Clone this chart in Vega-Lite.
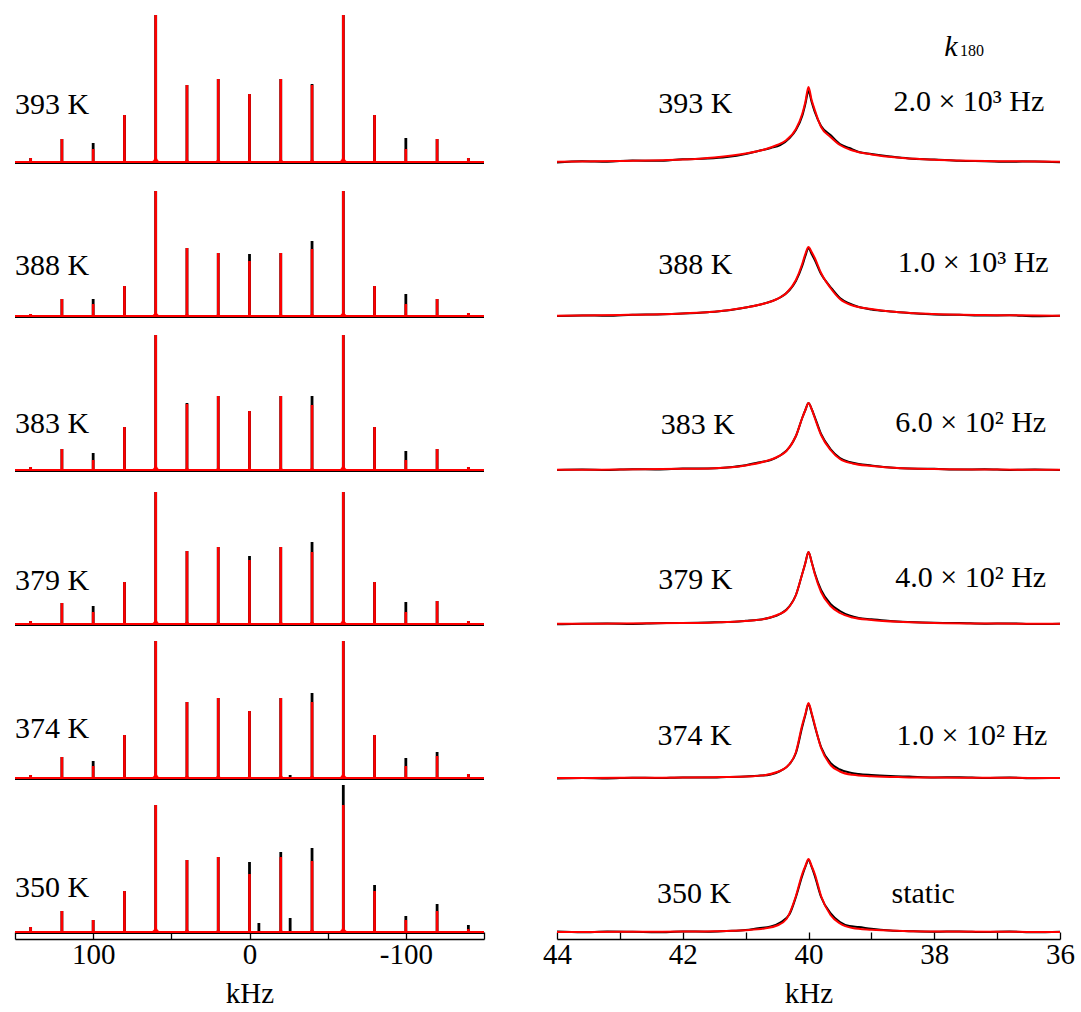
{
"$schema":"https://vega.github.io/schema/vega-lite/v6.json",
"padding":{"left":13,"top":13,"right":0,"bottom":0},
"background":"white",
"config":{"view":{"stroke":null},"font":"Liberation Serif",
"axisY":{"disable":true},
"axisX":{"domainColor":"black","domainWidth":1.5,"tickColor":"black","tickWidth":1.3,"tickSize":-7,"labelFontSize":29,"labelColor":"black","labelFont":"Liberation Serif","labelPadding":8,"labelFlush":false,"labelOverlap":false,"titleFontSize":29,"titleFont":"Liberation Serif","titleFontWeight":"normal","titleColor":"black","titlePadding":10,"grid":false}},
"hconcat":[
{
"data":{"values":[
{"t":"393","k":"l","x":150,"y":48,"txt":"393 K"},
{"t":"393","k":"p","x":140,"e":4,"f":4},{"t":"393","k":"p","x":120,"e":23,"f":23},{"t":"393","k":"p","x":100,"e":19,"f":13},{"t":"393","k":"p","x":80,"e":47,"f":47},{"t":"393","k":"p","x":60,"e":147,"f":147},{"t":"393","k":"p","x":40,"e":77,"f":77},{"t":"393","k":"p","x":20,"e":83,"f":83},{"t":"393","k":"p","x":0,"e":68,"f":68},{"t":"393","k":"p","x":-20,"e":83,"f":83},{"t":"393","k":"p","x":-40,"e":78,"f":77},{"t":"393","k":"p","x":-60,"e":147,"f":147},{"t":"393","k":"p","x":-80,"e":47,"f":47},{"t":"393","k":"p","x":-100,"e":24,"f":13},{"t":"393","k":"p","x":-120,"e":23,"f":23},{"t":"393","k":"p","x":-140,"e":4,"f":4},
{"t":"388","k":"l","x":150,"y":41,"txt":"388 K"},
{"t":"388","k":"p","x":140,"e":2,"f":2},{"t":"388","k":"p","x":120,"e":17,"f":17},{"t":"388","k":"p","x":100,"e":17,"f":12},{"t":"388","k":"p","x":80,"e":30,"f":30},{"t":"388","k":"p","x":60,"e":125,"f":125},{"t":"388","k":"p","x":40,"e":68,"f":68},{"t":"388","k":"p","x":20,"e":63,"f":63},{"t":"388","k":"p","x":0,"e":62,"f":55},{"t":"388","k":"p","x":-20,"e":63,"f":63},{"t":"388","k":"p","x":-40,"e":75,"f":67},{"t":"388","k":"p","x":-60,"e":125,"f":125},{"t":"388","k":"p","x":-80,"e":30,"f":30},{"t":"388","k":"p","x":-100,"e":22,"f":12},{"t":"388","k":"p","x":-120,"e":17,"f":17},{"t":"388","k":"p","x":-140,"e":3,"f":3},
{"t":"383","k":"l","x":150,"y":37,"txt":"383 K"},
{"t":"383","k":"p","x":140,"e":3,"f":3},{"t":"383","k":"p","x":120,"e":21,"f":21},{"t":"383","k":"p","x":100,"e":17,"f":10},{"t":"383","k":"p","x":80,"e":43,"f":43},{"t":"383","k":"p","x":60,"e":135,"f":135},{"t":"383","k":"p","x":40,"e":67,"f":66},{"t":"383","k":"p","x":20,"e":74,"f":74},{"t":"383","k":"p","x":0,"e":59,"f":59},{"t":"383","k":"p","x":-20,"e":74,"f":74},{"t":"383","k":"p","x":-40,"e":74,"f":65},{"t":"383","k":"p","x":-60,"e":135,"f":135},{"t":"383","k":"p","x":-80,"e":43,"f":43},{"t":"383","k":"p","x":-100,"e":19,"f":10},{"t":"383","k":"p","x":-120,"e":21,"f":21},{"t":"383","k":"p","x":-140,"e":3,"f":3},
{"t":"379","k":"l","x":150,"y":34,"txt":"379 K"},
{"t":"379","k":"p","x":140,"e":3,"f":3},{"t":"379","k":"p","x":120,"e":21,"f":21},{"t":"379","k":"p","x":100,"e":18,"f":12},{"t":"379","k":"p","x":80,"e":42,"f":42},{"t":"379","k":"p","x":60,"e":132,"f":132},{"t":"379","k":"p","x":40,"e":73,"f":73},{"t":"379","k":"p","x":20,"e":77,"f":77},{"t":"379","k":"p","x":0,"e":68,"f":64},{"t":"379","k":"p","x":-20,"e":77,"f":77},{"t":"379","k":"p","x":-40,"e":82,"f":72},{"t":"379","k":"p","x":-60,"e":132,"f":132},{"t":"379","k":"p","x":-80,"e":42,"f":42},{"t":"379","k":"p","x":-100,"e":22,"f":12},{"t":"379","k":"p","x":-120,"e":23,"f":23},{"t":"379","k":"p","x":-140,"e":3,"f":3},
{"t":"374","k":"l","x":150,"y":40,"txt":"374 K"},
{"t":"374","k":"p","x":140,"e":3,"f":3},{"t":"374","k":"p","x":120,"e":21,"f":21},{"t":"374","k":"p","x":100,"e":17,"f":12},{"t":"374","k":"p","x":80,"e":43,"f":43},{"t":"374","k":"p","x":60,"e":137,"f":137},{"t":"374","k":"p","x":40,"e":76,"f":76},{"t":"374","k":"p","x":20,"e":80,"f":80},{"t":"374","k":"p","x":0,"e":67,"f":67},{"t":"374","k":"p","x":-20,"e":80,"f":80},{"t":"374","k":"p","x":-40,"e":85,"f":76},{"t":"374","k":"p","x":-60,"e":137,"f":137},{"t":"374","k":"p","x":-80,"e":43,"f":43},{"t":"374","k":"p","x":-100,"e":20,"f":12},{"t":"374","k":"p","x":-120,"e":26,"f":22},{"t":"374","k":"p","x":-140,"e":4,"f":4},{"t":"374","k":"p","x":-26,"e":3,"f":0},
{"t":"350","k":"l","x":150,"y":35,"txt":"350 K"},
{"t":"350","k":"p","x":140,"e":5,"f":5},{"t":"350","k":"p","x":120,"e":21,"f":21},{"t":"350","k":"p","x":100,"e":12,"f":12},{"t":"350","k":"p","x":80,"e":41,"f":41},{"t":"350","k":"p","x":60,"e":127,"f":127},{"t":"350","k":"p","x":40,"e":72,"f":72},{"t":"350","k":"p","x":20,"e":75,"f":75},{"t":"350","k":"p","x":0,"e":70,"f":58},{"t":"350","k":"p","x":-20,"e":80,"f":75},{"t":"350","k":"p","x":-40,"e":84,"f":71},{"t":"350","k":"p","x":-60,"e":147,"f":127},{"t":"350","k":"p","x":-80,"e":47,"f":41},{"t":"350","k":"p","x":-100,"e":16,"f":12},{"t":"350","k":"p","x":-120,"e":28,"f":21},{"t":"350","k":"p","x":-140,"e":7,"f":3},{"t":"350","k":"p","x":-6,"e":9,"f":0},{"t":"350","k":"p","x":-26,"e":14,"f":0}
]},
"facet":{"row":{"field":"t","type":"nominal","sort":"descending","header":null}},
"spacing":0,
"bounds":"flush",
"spec":{
"width":469,"height":154,
"encoding":{"x":{"field":"x","type":"quantitative","scale":{"domain":[150,-150],"nice":false,"zero":false},
"axis":{"values":[150,100,50,0,-50,-100,-150],"labelExpr":"datum.value % 100 == 0 && abs(datum.value) < 150 ? toString(datum.value) : ''","title":"kHz"}}},
"layer":[
{"transform":[{"filter":"datum.k == 'l'"}],"mark":{"type":"rule","color":"black","strokeWidth":2.6},
"encoding":{"x":{"datum":150},"x2":{"datum":-150},"y":{"datum":-0.8,"scale":{"domain":[-7,147]}}}},
{"transform":[{"filter":"datum.k == 'p'"}],"mark":{"type":"rule","color":"black","strokeWidth":2.8,"strokeCap":"butt"},
"encoding":{"y":{"field":"e","type":"quantitative","scale":{"domain":[-7,147]}},"y2":{"datum":0}}},
{"transform":[{"filter":"datum.k == 'p' && datum.f > 0"}],"mark":{"type":"point","shape":"M-1,0 Q-0.15,-0.1 -0.12,-1 L0.12,-1 Q0.15,-0.1 1,0 Z","filled":true,"color":"red","opacity":1,"strokeWidth":0},
"encoding":{"y":{"datum":0,"scale":{"domain":[-7,147]}},"size":{"field":"f","type":"quantitative","scale":{"domain":[0,147],"range":[0,160]},"legend":null}}},
{"transform":[{"filter":"datum.k == 'l'"}],"mark":{"type":"rule","color":"red","strokeWidth":2},
"encoding":{"x":{"datum":150},"x2":{"datum":-150},"y":{"datum":0,"scale":{"domain":[-7,147]}}}},
{"transform":[{"filter":"datum.k == 'p' && datum.f > 0"}],"mark":{"type":"rule","color":"red","strokeWidth":2.6,"strokeCap":"butt"},
"encoding":{"y":{"field":"f","type":"quantitative","scale":{"domain":[-7,147]}},"y2":{"datum":0}}},
{"transform":[{"filter":"datum.k == 'l'"}],"mark":{"type":"text","align":"left","baseline":"alphabetic","fontSize":30,"font":"Liberation Serif","color":"black"},
"encoding":{"y":{"field":"y","type":"quantitative","scale":{"domain":[-7,147]}},"text":{"field":"txt"}}}
]}
},
{
"data":{"values":[
{"t":"393","s":"lt","x":42.39,"y":49,"txt":"393 K"},{"t":"393","s":"lr","x":38.65,"y":51,"txt":"2.0 × 10³ Hz"},{"t":"393","s":"kk","x":37.84,"y":106,"txt":"k"},{"t":"393","s":"ks","x":37.59,"y":106,"txt":"180"},
{"t":"388","s":"lt","x":42.39,"y":42,"txt":"388 K"},{"t":"388","s":"lr","x":38.58,"y":44,"txt":"1.0 × 10³ Hz"},
{"t":"383","s":"lt","x":42.35,"y":36,"txt":"383 K"},{"t":"383","s":"lr","x":38.62,"y":38,"txt":"6.0 × 10² Hz"},
{"t":"379","s":"lt","x":42.39,"y":35,"txt":"379 K"},{"t":"379","s":"lr","x":38.62,"y":37,"txt":"4.0 × 10² Hz"},
{"t":"374","s":"lt","x":42.40,"y":33,"txt":"374 K"},{"t":"374","s":"lr","x":38.6,"y":33,"txt":"1.0 × 10² Hz"},
{"t":"350","s":"lt","x":42.41,"y":29,"txt":"350 K"},{"t":"350","s":"lr","x":38.68,"y":29,"txt":"static"},

{"t":"393","s":"f","x":44,"y":0.3},{"t":"393","s":"f","x":43,"y":1},{"t":"393","s":"f","x":42,"y":2.4},{"t":"393","s":"f","x":41.5,"y":4.5},{"t":"393","s":"f","x":41,"y":8.5},{"t":"393","s":"f","x":40.7,"y":12.5},{"t":"393","s":"f","x":40.5,"y":17},{"t":"393","s":"f","x":40.35,"y":22},{"t":"393","s":"f","x":40.2,"y":33},{"t":"393","s":"f","x":40.1,"y":48},{"t":"393","s":"f","x":40.05,"y":60},{"t":"393","s":"f","x":40,"y":75},{"t":"393","s":"f","x":39.95,"y":62},{"t":"393","s":"f","x":39.9,"y":52},{"t":"393","s":"f","x":39.8,"y":35},{"t":"393","s":"f","x":39.65,"y":25},{"t":"393","s":"f","x":39.5,"y":17},{"t":"393","s":"f","x":39.3,"y":11.5},{"t":"393","s":"f","x":39,"y":7.5},{"t":"393","s":"f","x":38.5,"y":4},{"t":"393","s":"f","x":38,"y":2.2},{"t":"393","s":"f","x":37,"y":0.8},{"t":"393","s":"f","x":36,"y":0.3},
{"t":"388","s":"f","x":44,"y":0.3},{"t":"388","s":"f","x":43,"y":1},{"t":"388","s":"f","x":42,"y":2.6},{"t":"388","s":"f","x":41.5,"y":4.3},{"t":"388","s":"f","x":41,"y":8.5},{"t":"388","s":"f","x":40.7,"y":12.5},{"t":"388","s":"f","x":40.5,"y":17},{"t":"388","s":"f","x":40.35,"y":23},{"t":"388","s":"f","x":40.2,"y":36},{"t":"388","s":"f","x":40.1,"y":52},{"t":"388","s":"f","x":40.05,"y":62},{"t":"388","s":"f","x":40,"y":69},{"t":"388","s":"f","x":39.95,"y":64},{"t":"388","s":"f","x":39.9,"y":58},{"t":"388","s":"f","x":39.8,"y":43},{"t":"388","s":"f","x":39.65,"y":28},{"t":"388","s":"f","x":39.5,"y":17},{"t":"388","s":"f","x":39.3,"y":10.5},{"t":"388","s":"f","x":39,"y":7},{"t":"388","s":"f","x":38.5,"y":3.5},{"t":"388","s":"f","x":38,"y":2},{"t":"388","s":"f","x":37,"y":0.8},{"t":"388","s":"f","x":36,"y":0.3},
{"t":"383","s":"f","x":44,"y":0.2},{"t":"383","s":"f","x":43,"y":0.5},{"t":"383","s":"f","x":42,"y":1.2},{"t":"383","s":"f","x":41.5,"y":1.8},{"t":"383","s":"f","x":41,"y":4.5},{"t":"383","s":"f","x":40.7,"y":8.5},{"t":"383","s":"f","x":40.5,"y":13},{"t":"383","s":"f","x":40.35,"y":19},{"t":"383","s":"f","x":40.2,"y":34},{"t":"383","s":"f","x":40.1,"y":52},{"t":"383","s":"f","x":40.05,"y":60},{"t":"383","s":"f","x":40,"y":67},{"t":"383","s":"f","x":39.95,"y":61},{"t":"383","s":"f","x":39.9,"y":52},{"t":"383","s":"f","x":39.8,"y":35},{"t":"383","s":"f","x":39.65,"y":20},{"t":"383","s":"f","x":39.5,"y":11},{"t":"383","s":"f","x":39.3,"y":6.5},{"t":"383","s":"f","x":39,"y":4},{"t":"383","s":"f","x":38.5,"y":1.8},{"t":"383","s":"f","x":38,"y":1},{"t":"383","s":"f","x":37,"y":0.4},{"t":"383","s":"f","x":36,"y":0.2},
{"t":"379","s":"f","x":44,"y":0.2},{"t":"379","s":"f","x":43,"y":0.4},{"t":"379","s":"f","x":42,"y":1},{"t":"379","s":"f","x":41.5,"y":1.6},{"t":"379","s":"f","x":41,"y":3},{"t":"379","s":"f","x":40.7,"y":5},{"t":"379","s":"f","x":40.5,"y":9},{"t":"379","s":"f","x":40.35,"y":14},{"t":"379","s":"f","x":40.2,"y":29},{"t":"379","s":"f","x":40.1,"y":50},{"t":"379","s":"f","x":40.05,"y":61},{"t":"379","s":"f","x":40,"y":72},{"t":"379","s":"f","x":39.95,"y":62},{"t":"379","s":"f","x":39.9,"y":50},{"t":"379","s":"f","x":39.8,"y":32},{"t":"379","s":"f","x":39.65,"y":18},{"t":"379","s":"f","x":39.5,"y":11},{"t":"379","s":"f","x":39.3,"y":6.5},{"t":"379","s":"f","x":39,"y":4},{"t":"379","s":"f","x":38.5,"y":2},{"t":"379","s":"f","x":38,"y":1},{"t":"379","s":"f","x":37,"y":0.4},{"t":"379","s":"f","x":36,"y":0.2},
{"t":"374","s":"f","x":44,"y":0},{"t":"374","s":"f","x":43,"y":0.2},{"t":"374","s":"f","x":42,"y":0.5},{"t":"374","s":"f","x":41.5,"y":0.8},{"t":"374","s":"f","x":41,"y":1.5},{"t":"374","s":"f","x":40.7,"y":2.8},{"t":"374","s":"f","x":40.5,"y":6},{"t":"374","s":"f","x":40.35,"y":11},{"t":"374","s":"f","x":40.2,"y":26},{"t":"374","s":"f","x":40.1,"y":53},{"t":"374","s":"f","x":40.05,"y":64},{"t":"374","s":"f","x":40,"y":75},{"t":"374","s":"f","x":39.95,"y":65},{"t":"374","s":"f","x":39.9,"y":53},{"t":"374","s":"f","x":39.8,"y":30},{"t":"374","s":"f","x":39.65,"y":13},{"t":"374","s":"f","x":39.5,"y":6.5},{"t":"374","s":"f","x":39.3,"y":3.2},{"t":"374","s":"f","x":39,"y":1.8},{"t":"374","s":"f","x":38.5,"y":0.8},{"t":"374","s":"f","x":38,"y":0.4},{"t":"374","s":"f","x":37,"y":0.2},{"t":"374","s":"f","x":36,"y":0},
{"t":"350","s":"f","x":44,"y":0},{"t":"350","s":"f","x":43,"y":0.2},{"t":"350","s":"f","x":42,"y":0.5},{"t":"350","s":"f","x":41.5,"y":0.8},{"t":"350","s":"f","x":41,"y":1.8},{"t":"350","s":"f","x":40.7,"y":3.5},{"t":"350","s":"f","x":40.5,"y":6.5},{"t":"350","s":"f","x":40.35,"y":13},{"t":"350","s":"f","x":40.2,"y":36},{"t":"350","s":"f","x":40.1,"y":58},{"t":"350","s":"f","x":40.05,"y":66},{"t":"350","s":"f","x":40,"y":73},{"t":"350","s":"f","x":39.95,"y":66},{"t":"350","s":"f","x":39.9,"y":58},{"t":"350","s":"f","x":39.8,"y":36},{"t":"350","s":"f","x":39.65,"y":17},{"t":"350","s":"f","x":39.5,"y":8.5},{"t":"350","s":"f","x":39.3,"y":4},{"t":"350","s":"f","x":39,"y":2.2},{"t":"350","s":"f","x":38.5,"y":1},{"t":"350","s":"f","x":38,"y":0.5},{"t":"350","s":"f","x":37,"y":0.2},{"t":"350","s":"f","x":36,"y":0},

{"t":"393","s":"e","x":44,"y":-0.5},{"t":"393","s":"e","x":43.6,"y":0.8},{"t":"393","s":"e","x":43.2,"y":0.3},{"t":"393","s":"e","x":42.8,"y":1.5},{"t":"393","s":"e","x":42.4,"y":1.2},{"t":"393","s":"e","x":42,"y":2.8},{"t":"393","s":"e","x":41.6,"y":3.5},{"t":"393","s":"e","x":41.3,"y":5},{"t":"393","s":"e","x":41,"y":8},{"t":"393","s":"e","x":40.8,"y":11},{"t":"393","s":"e","x":40.6,"y":14},{"t":"393","s":"e","x":40.45,"y":17},{"t":"393","s":"e","x":40.3,"y":24},{"t":"393","s":"e","x":40.2,"y":32},{"t":"393","s":"e","x":40.1,"y":46},{"t":"393","s":"e","x":40.05,"y":58},{"t":"393","s":"e","x":40,"y":71},{"t":"393","s":"e","x":39.95,"y":60},{"t":"393","s":"e","x":39.9,"y":50},{"t":"393","s":"e","x":39.8,"y":36},{"t":"393","s":"e","x":39.65,"y":27},{"t":"393","s":"e","x":39.5,"y":18},{"t":"393","s":"e","x":39.35,"y":14},{"t":"393","s":"e","x":39.2,"y":10},{"t":"393","s":"e","x":39,"y":8},{"t":"393","s":"e","x":38.7,"y":5.5},{"t":"393","s":"e","x":38.4,"y":3.5},{"t":"393","s":"e","x":38,"y":2.5},{"t":"393","s":"e","x":37.6,"y":1.2},{"t":"393","s":"e","x":37.2,"y":0.8},{"t":"393","s":"e","x":36.8,"y":0.2},{"t":"393","s":"e","x":36.4,"y":0.6},{"t":"393","s":"e","x":36,"y":-0.3},
{"t":"388","s":"e","x":44,"y":0},{"t":"388","s":"e","x":43.6,"y":0.6},{"t":"388","s":"e","x":43.2,"y":0.2},{"t":"388","s":"e","x":42.8,"y":1.2},{"t":"388","s":"e","x":42.4,"y":1.6},{"t":"388","s":"e","x":42,"y":2.4},{"t":"388","s":"e","x":41.6,"y":3.8},{"t":"388","s":"e","x":41.3,"y":5.5},{"t":"388","s":"e","x":41,"y":8.5},{"t":"388","s":"e","x":40.8,"y":11},{"t":"388","s":"e","x":40.6,"y":14.5},{"t":"388","s":"e","x":40.45,"y":18.5},{"t":"388","s":"e","x":40.3,"y":26},{"t":"388","s":"e","x":40.2,"y":35},{"t":"388","s":"e","x":40.1,"y":50},{"t":"388","s":"e","x":40.05,"y":60},{"t":"388","s":"e","x":40,"y":68},{"t":"388","s":"e","x":39.95,"y":62},{"t":"388","s":"e","x":39.9,"y":56},{"t":"388","s":"e","x":39.8,"y":42},{"t":"388","s":"e","x":39.65,"y":29},{"t":"388","s":"e","x":39.5,"y":18},{"t":"388","s":"e","x":39.35,"y":12.5},{"t":"388","s":"e","x":39.2,"y":9},{"t":"388","s":"e","x":39,"y":6.5},{"t":"388","s":"e","x":38.7,"y":4.5},{"t":"388","s":"e","x":38.4,"y":3},{"t":"388","s":"e","x":38,"y":1.5},{"t":"388","s":"e","x":37.6,"y":1.2},{"t":"388","s":"e","x":37.2,"y":0.4},{"t":"388","s":"e","x":36.8,"y":0.7},{"t":"388","s":"e","x":36.4,"y":-0.2},{"t":"388","s":"e","x":36,"y":0.2},
{"t":"383","s":"e","x":44,"y":0},{"t":"383","s":"e","x":43.6,"y":0.4},{"t":"383","s":"e","x":43.2,"y":0},{"t":"383","s":"e","x":42.8,"y":0.8},{"t":"383","s":"e","x":42.4,"y":0.5},{"t":"383","s":"e","x":42,"y":1.4},{"t":"383","s":"e","x":41.6,"y":1.6},{"t":"383","s":"e","x":41.3,"y":2.6},{"t":"383","s":"e","x":41,"y":4.8},{"t":"383","s":"e","x":40.8,"y":7.5},{"t":"383","s":"e","x":40.6,"y":10},{"t":"383","s":"e","x":40.45,"y":14.5},{"t":"383","s":"e","x":40.3,"y":23},{"t":"383","s":"e","x":40.2,"y":34},{"t":"383","s":"e","x":40.1,"y":52},{"t":"383","s":"e","x":40.05,"y":60},{"t":"383","s":"e","x":40,"y":67},{"t":"383","s":"e","x":39.95,"y":61},{"t":"383","s":"e","x":39.9,"y":53},{"t":"383","s":"e","x":39.8,"y":36},{"t":"383","s":"e","x":39.65,"y":21},{"t":"383","s":"e","x":39.5,"y":12},{"t":"383","s":"e","x":39.35,"y":8},{"t":"383","s":"e","x":39.2,"y":6},{"t":"383","s":"e","x":39,"y":4.5},{"t":"383","s":"e","x":38.7,"y":2.5},{"t":"383","s":"e","x":38.4,"y":1.5},{"t":"383","s":"e","x":38,"y":1.2},{"t":"383","s":"e","x":37.6,"y":0.4},{"t":"383","s":"e","x":37.2,"y":0.8},{"t":"383","s":"e","x":36.8,"y":0.1},{"t":"383","s":"e","x":36.4,"y":0.5},{"t":"383","s":"e","x":36,"y":0},
{"t":"379","s":"e","x":44,"y":-0.3},{"t":"379","s":"e","x":43.6,"y":0.3},{"t":"379","s":"e","x":43.2,"y":0.5},{"t":"379","s":"e","x":42.8,"y":0.1},{"t":"379","s":"e","x":42.4,"y":0.8},{"t":"379","s":"e","x":42,"y":1},{"t":"379","s":"e","x":41.6,"y":1.6},{"t":"379","s":"e","x":41.3,"y":2},{"t":"379","s":"e","x":41,"y":3.2},{"t":"379","s":"e","x":40.8,"y":4.2},{"t":"379","s":"e","x":40.6,"y":6.5},{"t":"379","s":"e","x":40.45,"y":10},{"t":"379","s":"e","x":40.3,"y":18},{"t":"379","s":"e","x":40.2,"y":29},{"t":"379","s":"e","x":40.1,"y":50},{"t":"379","s":"e","x":40.05,"y":61},{"t":"379","s":"e","x":40,"y":72},{"t":"379","s":"e","x":39.95,"y":62},{"t":"379","s":"e","x":39.9,"y":51},{"t":"379","s":"e","x":39.8,"y":34},{"t":"379","s":"e","x":39.65,"y":20},{"t":"379","s":"e","x":39.5,"y":13},{"t":"379","s":"e","x":39.35,"y":8.5},{"t":"379","s":"e","x":39.2,"y":6},{"t":"379","s":"e","x":39,"y":4.8},{"t":"379","s":"e","x":38.7,"y":3},{"t":"379","s":"e","x":38.4,"y":2},{"t":"379","s":"e","x":38,"y":1.2},{"t":"379","s":"e","x":37.6,"y":1},{"t":"379","s":"e","x":37.2,"y":0.3},{"t":"379","s":"e","x":36.8,"y":0.6},{"t":"379","s":"e","x":36.4,"y":0},{"t":"379","s":"e","x":36,"y":0.2},
{"t":"374","s":"e","x":44,"y":-0.6},{"t":"374","s":"e","x":43.6,"y":0},{"t":"374","s":"e","x":43.2,"y":-0.4},{"t":"374","s":"e","x":42.8,"y":0.3},{"t":"374","s":"e","x":42.4,"y":0},{"t":"374","s":"e","x":42,"y":0.6},{"t":"374","s":"e","x":41.6,"y":0.5},{"t":"374","s":"e","x":41.3,"y":1},{"t":"374","s":"e","x":41,"y":1.6},{"t":"374","s":"e","x":40.8,"y":2.2},{"t":"374","s":"e","x":40.6,"y":3.6},{"t":"374","s":"e","x":40.45,"y":7},{"t":"374","s":"e","x":40.3,"y":14},{"t":"374","s":"e","x":40.2,"y":25},{"t":"374","s":"e","x":40.1,"y":51},{"t":"374","s":"e","x":40.05,"y":63},{"t":"374","s":"e","x":40,"y":74},{"t":"374","s":"e","x":39.95,"y":64},{"t":"374","s":"e","x":39.9,"y":52},{"t":"374","s":"e","x":39.8,"y":31},{"t":"374","s":"e","x":39.65,"y":15},{"t":"374","s":"e","x":39.5,"y":8.5},{"t":"374","s":"e","x":39.35,"y":5.5},{"t":"374","s":"e","x":39.2,"y":4},{"t":"374","s":"e","x":39,"y":3},{"t":"374","s":"e","x":38.7,"y":2},{"t":"374","s":"e","x":38.4,"y":1.4},{"t":"374","s":"e","x":38,"y":0.6},{"t":"374","s":"e","x":37.6,"y":0.8},{"t":"374","s":"e","x":37.2,"y":0},{"t":"374","s":"e","x":36.8,"y":0.4},{"t":"374","s":"e","x":36.4,"y":-0.2},{"t":"374","s":"e","x":36,"y":0},
{"t":"350","s":"e","x":44,"y":0.6},{"t":"350","s":"e","x":43.6,"y":-0.2},{"t":"350","s":"e","x":43.2,"y":0.4},{"t":"350","s":"e","x":42.8,"y":0.2},{"t":"350","s":"e","x":42.4,"y":-0.3},{"t":"350","s":"e","x":42,"y":0.5},{"t":"350","s":"e","x":41.6,"y":0.3},{"t":"350","s":"e","x":41.3,"y":1},{"t":"350","s":"e","x":41,"y":2},{"t":"350","s":"e","x":40.8,"y":3.8},{"t":"350","s":"e","x":40.6,"y":5.5},{"t":"350","s":"e","x":40.45,"y":9.5},{"t":"350","s":"e","x":40.3,"y":18},{"t":"350","s":"e","x":40.2,"y":35},{"t":"350","s":"e","x":40.1,"y":56},{"t":"350","s":"e","x":40.05,"y":65},{"t":"350","s":"e","x":40,"y":72},{"t":"350","s":"e","x":39.95,"y":65},{"t":"350","s":"e","x":39.9,"y":56},{"t":"350","s":"e","x":39.8,"y":35},{"t":"350","s":"e","x":39.65,"y":19},{"t":"350","s":"e","x":39.5,"y":10},{"t":"350","s":"e","x":39.35,"y":6},{"t":"350","s":"e","x":39.2,"y":5},{"t":"350","s":"e","x":39,"y":3.2},{"t":"350","s":"e","x":38.7,"y":1.5},{"t":"350","s":"e","x":38.4,"y":0.8},{"t":"350","s":"e","x":38,"y":0.2},{"t":"350","s":"e","x":37.6,"y":0.6},{"t":"350","s":"e","x":37.2,"y":0},{"t":"350","s":"e","x":36.8,"y":0.4},{"t":"350","s":"e","x":36.4,"y":-0.2},{"t":"350","s":"e","x":36,"y":0.3}
]},
"facet":{"row":{"field":"t","type":"nominal","sort":"descending","header":null}},
"spacing":0,
"bounds":"flush",
"spec":{
"width":503,"height":154,
"encoding":{"x":{"field":"x","type":"quantitative","scale":{"domain":[44,36],"nice":false,"zero":false},
"axis":{"values":[44,43,42,41,40,39,38,37,36],"labelExpr":"datum.value % 2 == 0 ? toString(datum.value) : ''","title":"kHz"}}},
"layer":[
{"transform":[{"filter":"datum.s == 'e'"}],"mark":{"type":"line","color":"black","strokeWidth":2,"interpolate":"monotone"},
"encoding":{"y":{"field":"y","type":"quantitative","scale":{"domain":[-7,147]}}}},
{"transform":[{"filter":"datum.s == 'f'"}],"mark":{"type":"line","color":"red","strokeWidth":2,"interpolate":"monotone"},
"encoding":{"y":{"field":"y","type":"quantitative","scale":{"domain":[-7,147]}}}},
{"transform":[{"filter":"datum.s == 'lt' || datum.s == 'lr'"}],"mark":{"type":"text","align":"left","baseline":"alphabetic","fontSize":30,"font":"Liberation Serif","color":"black"},
"encoding":{"y":{"field":"y","type":"quantitative","scale":{"domain":[-7,147]}},"text":{"field":"txt"}}},
{"transform":[{"filter":"datum.s == 'kk'"}],"mark":{"type":"text","align":"left","baseline":"alphabetic","fontSize":30,"fontStyle":"italic","font":"Liberation Serif","color":"black"},
"encoding":{"y":{"field":"y","type":"quantitative","scale":{"domain":[-7,147]}},"text":{"field":"txt"}}},
{"transform":[{"filter":"datum.s == 'ks'"}],"mark":{"type":"text","align":"left","baseline":"alphabetic","fontSize":16,"font":"Liberation Serif","color":"black"},
"encoding":{"y":{"field":"y","type":"quantitative","scale":{"domain":[-7,147]}},"text":{"field":"txt"}}}
]}
}
],
"spacing":56
}
